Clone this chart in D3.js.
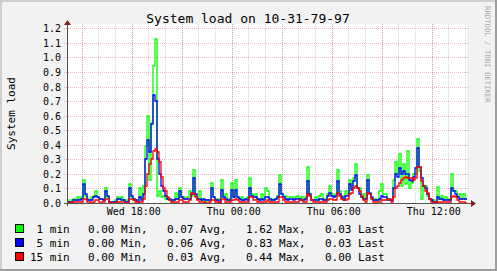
<!DOCTYPE html>
<html>
<head>
<meta charset="utf-8">
<script src="https://cdn.jsdelivr.net/npm/d3@7"></script>
<style>
  body { margin: 0; background: #f2f2f2; }
  text { font-family: "DejaVu Sans Mono", monospace; fill: #000; }
</style>
</head>
<body>
<div class="chart"></div>
<script>
// Data: one value every ~7 minutes (2px)
var load1 = [
  0.02,0.01,0.02,0.03,0.02,0.04,0.03,0.04,0.16,0.05, 0.03,0.02,0.04,0.05,0.08,0.04,0.03,0.03,0.02,0.10,
  0.04,0.01,0.01,0.01,0.02,0.04,0.03,0.04,0.02,0.01, 0.02,0.13,0.04,0.03,0.02,0.02,0.10,0.03,0.12,0.39,
  0.60,0.16,0.55,0.94,1.13,0.05,0.08,0.04,0.05,0.03, 0.03,0.02,0.01,0.02,0.07,0.03,0.10,0.04,0.04,0.03,
  0.04,0.08,0.05,0.23,0.05,0.03,0.08,0.02,0.02,0.01, 0.02,0.02,0.14,0.04,0.02,0.03,0.02,0.16,0.04,0.06,
  0.02,0.03,0.14,0.04,0.16,0.04,0.03,0.04,0.02,0.03, 0.04,0.17,0.06,0.04,0.06,0.03,0.02,0.06,0.03,0.10,
  0.08,0.02,0.03,0.02,0.03,0.05,0.19,0.06,0.04,0.05, 0.03,0.04,0.04,0.03,0.04,0.05,0.03,0.04,0.03,0.04,
  0.25,0.05,0.02,0.02,0.04,0.02,0.05,0.06,0.02,0.03, 0.06,0.12,0.06,0.05,0.06,0.23,0.08,0.05,0.03,0.08,
  0.06,0.16,0.10,0.17,0.27,0.10,0.10,0.04,0.06,0.03, 0.19,0.06,0.03,0.02,0.03,0.02,0.08,0.13,0.06,0.06,
  0.03,0.03,0.02,0.16,0.28,0.20,0.34,0.12,0.27,0.13, 0.36,0.10,0.14,0.20,0.20,0.44,0.22,0.03,0.12,0.12,
  0.05,0.03,0.02,0.02,0.01,0.11,0.03,0.05,0.02,0.04, 0.03,0.02,0.20,0.08,0.08,0.04,0.06,0.03,0.06,0.03
];
var load5 = [
  0.01,0.01,0.01,0.02,0.02,0.02,0.02,0.03,0.13,0.06, 0.02,0.02,0.02,0.04,0.05,0.04,0.03,0.03,0.02,0.08,
  0.05,0.01,0.01,0.01,0.01,0.03,0.03,0.02,0.02,0.01, 0.01,0.10,0.05,0.03,0.02,0.01,0.04,0.02,0.06,0.30,
  0.43,0.35,0.54,0.74,0.70,0.30,0.20,0.12,0.08,0.05, 0.03,0.03,0.02,0.02,0.03,0.03,0.08,0.04,0.03,0.03,
  0.03,0.03,0.06,0.17,0.06,0.03,0.03,0.02,0.03,0.02, 0.02,0.02,0.10,0.04,0.02,0.02,0.01,0.09,0.04,0.03,
  0.02,0.02,0.09,0.04,0.09,0.04,0.03,0.02,0.02,0.03, 0.02,0.10,0.05,0.04,0.04,0.03,0.02,0.03,0.02,0.04,
  0.04,0.03,0.02,0.02,0.03,0.04,0.13,0.06,0.04,0.03, 0.02,0.03,0.03,0.02,0.03,0.03,0.03,0.02,0.02,0.03,
  0.15,0.06,0.02,0.02,0.02,0.02,0.03,0.03,0.02,0.02, 0.05,0.07,0.05,0.04,0.05,0.15,0.06,0.04,0.02,0.05,
  0.05,0.13,0.09,0.15,0.19,0.10,0.06,0.04,0.03,0.03, 0.16,0.07,0.04,0.02,0.02,0.02,0.03,0.05,0.04,0.04,
  0.02,0.02,0.02,0.10,0.20,0.18,0.24,0.20,0.22,0.20, 0.20,0.16,0.15,0.18,0.24,0.375,0.25,0.17,0.12,0.10,
  0.06,0.03,0.02,0.01,0.01,0.04,0.03,0.03,0.02,0.02, 0.02,0.02,0.10,0.08,0.06,0.04,0.03,0.03,0.03,0.03
];
var load15 = [
  0.00,0.00,0.01,0.01,0.01,0.01,0.01,0.01,0.03,0.03, 0.01,0.01,0.00,0.01,0.02,0.02,0.01,0.01,0.01,0.03,
  0.03,0.01,0.00,0.00,0.00,0.01,0.01,0.01,0.01,0.00, 0.00,0.03,0.03,0.02,0.01,0.01,0.01,0.01,0.03,0.12,
  0.20,0.27,0.30,0.36,0.37,0.35,0.28,0.18,0.10,0.08, 0.04,0.02,0.01,0.01,0.01,0.01,0.02,0.02,0.01,0.01,
  0.01,0.02,0.07,0.06,0.04,0.02,0.01,0.01,0.01,0.00, 0.00,0.01,0.02,0.02,0.01,0.01,0.01,0.03,0.03,0.01,
  0.01,0.01,0.02,0.02,0.03,0.02,0.01,0.01,0.01,0.01, 0.01,0.04,0.04,0.02,0.02,0.01,0.01,0.01,0.01,0.01,
  0.02,0.01,0.01,0.01,0.01,0.01,0.04,0.04,0.02,0.01, 0.01,0.01,0.01,0.01,0.01,0.01,0.02,0.02,0.01,0.01,
  0.06,0.05,0.02,0.01,0.01,0.01,0.01,0.01,0.01,0.01, 0.02,0.03,0.03,0.02,0.02,0.07,0.05,0.03,0.02,0.02,
  0.03,0.06,0.07,0.10,0.12,0.10,0.08,0.05,0.02,0.01, 0.07,0.06,0.03,0.01,0.01,0.01,0.01,0.02,0.02,0.02,
  0.03,0.03,0.01,0.04,0.10,0.12,0.14,0.16,0.17,0.18, 0.17,0.17,0.17,0.16,0.17,0.25,0.25,0.15,0.12,0.08,
  0.07,0.03,0.01,0.01,0.01,0.01,0.01,0.01,0.01,0.01, 0.01,0.01,0.04,0.05,0.04,0.02,0.01,0.01,0.01,0.00
];

var seriesNames = [" 1 min", " 5 min", "15 min"];
var minValues = ["0.00", "0.00", "0.00"];
var avgValues = ["0.07", "0.06", "0.03"];
var maxValues = ["1.62", "0.83", "0.44"];
var lastValues = ["0.03", "0.03", "0.00"];
var seriesColors = ["#00ff00", "#0000ff", "#ff0000"];

var startTime = new Date(2023, 10, 1, 14, 7);   // Wed 14:07
var endTime = new Date(2023, 10, 2, 14, 7);     // Thu 14:07
var yMax = 1.23;

// Set up the chart
//= ================================
var svgWidth = 497;
var svgHeight = 271;
var plot = { left: 67, right: 467, top: 24, bottom: 203 };

var svg = d3.select(".chart")
  .append("svg")
  .attr("width", svgWidth)
  .attr("height", svgHeight);

// background and 3d-ish frame
svg.append("rect").attr("width", svgWidth).attr("height", svgHeight).attr("fill", "#f2f2f2");
svg.append("rect").attr("x", 0).attr("y", 0).attr("width", svgWidth).attr("height", 2).attr("fill", "#cfcfcf");
svg.append("rect").attr("x", 0).attr("y", 0).attr("width", 2).attr("height", svgHeight).attr("fill", "#cfcfcf");
svg.append("rect").attr("x", 0).attr("y", svgHeight - 2).attr("width", svgWidth).attr("height", 2).attr("fill", "#9e9e9e");
svg.append("rect").attr("x", svgWidth - 2).attr("y", 0).attr("width", 2).attr("height", svgHeight).attr("fill", "#9e9e9e");

// canvas
svg.append("rect")
  .attr("x", plot.left).attr("y", plot.top)
  .attr("width", plot.right - plot.left).attr("height", plot.bottom - plot.top)
  .attr("fill", "#ffffff");

// scales
var xScale = d3.scaleTime().domain([startTime, endTime]).range([plot.left, plot.right]);
var xIndex = d3.scaleLinear().domain([0, load1.length]).range([plot.left, plot.right]);
var yScale = d3.scaleLinear().domain([0, yMax]).range([plot.bottom, plot.top]);

var grid = svg.append("g");

// minor vertical grid: every hour
grid.selectAll(".vminor")
  .data(xScale.ticks(d3.timeHour.every(1)))
  .enter().append("line")
  .attr("x1", function(d) { return Math.round(xScale(d)) + 0.5; })
  .attr("x2", function(d) { return Math.round(xScale(d)) + 0.5; })
  .attr("y1", plot.top).attr("y2", plot.bottom)
  .attr("stroke", "rgba(180,150,150,0.45)")
  .attr("stroke-dasharray", "1,1");

// major vertical grid: every 3 hours
var majorX = xScale.ticks(d3.timeHour.every(3));
grid.selectAll(".vmajor")
  .data(majorX)
  .enter().append("line")
  .attr("x1", function(d) { return Math.round(xScale(d)) + 0.5; })
  .attr("x2", function(d) { return Math.round(xScale(d)) + 0.5; })
  .attr("y1", plot.top).attr("y2", plot.bottom + 3)
  .attr("stroke", "rgba(222,79,79,0.4)")
  .attr("stroke-dasharray", "1,1");

// horizontal grid: every 0.1
var yTicks = d3.range(0, 13).map(function(k) { return k / 10; });
grid.selectAll(".hmajor")
  .data(yTicks.slice(1))
  .enter().append("line")
  .attr("x1", plot.left - 3).attr("x2", plot.right + 2)
  .attr("y1", function(d) { return Math.round(yScale(d)) + 0.5; })
  .attr("y2", function(d) { return Math.round(yScale(d)) + 0.5; })
  .attr("stroke", "rgba(222,79,79,0.4)")
  .attr("stroke-dasharray", "1,1");

// the three load lines, 1 min first so 15 min sits on top
var line = d3.line()
  .x(function(d, i) { return Math.round(xIndex(i)); })
  .y(function(d) { return Math.round(yScale(d)); })
  .curve(d3.curveStepAfter);

[load1, load5, load15].forEach(function(series, k) {
  svg.append("path")
    .datum(series.concat([series[series.length - 1]]))
    .attr("d", line)
    .attr("fill", "none")
    .attr("stroke", seriesColors[k])
    .attr("stroke-width", 1.3);
});

// axes
svg.append("line")
  .attr("x1", plot.left + 0.5).attr("x2", plot.left + 0.5)
  .attr("y1", plot.bottom + 3).attr("y2", plot.top - 2)
  .attr("stroke", "#555");
svg.append("line")
  .attr("x1", plot.left - 3).attr("x2", plot.right + 4)
  .attr("y1", plot.bottom + 0.5).attr("y2", plot.bottom + 0.5)
  .attr("stroke", "#555");

// arrows
svg.append("path")
  .attr("d", "M" + (plot.left + 0.5) + "," + (plot.top - 4) + " l-3.5,5 h7 z")
  .attr("fill", "#801f1f");
svg.append("path")
  .attr("d", "M" + (plot.right + 9) + "," + (plot.bottom + 0.5) + " l-5,-3.5 v7 z")
  .attr("fill", "#801f1f");

// y tick labels
svg.selectAll(".ylabel")
  .data(yTicks)
  .enter().append("text")
  .attr("x", 61)
  .attr("y", function(d) { return Math.round(yScale(d)) + 0.5; })
  .attr("dy", "0.35em")
  .attr("text-anchor", "end")
  .style("font-size", "10px")
  .text(function(d) { return d3.format(".1f")(d); });

// x tick labels
svg.selectAll(".xlabel")
  .data(xScale.ticks(d3.timeHour.every(6)))
  .enter().append("text")
  .attr("x", function(d) { return xScale(d) + 2; })
  .attr("y", 215)
  .attr("text-anchor", "middle")
  .style("font-size", "10px")
  .text(function(d) { return d3.timeFormat("%a %H:%M")(d); });

// title
svg.append("text")
  .attr("x", 248).attr("y", 23)
  .attr("text-anchor", "middle")
  .style("font-size", "13px")
  .text("System load on 10-31-79-97");

// y axis title
svg.append("text")
  .attr("transform", "translate(15," + ((plot.top + plot.bottom) / 2) + ") rotate(-90)")
  .attr("text-anchor", "middle")
  .style("font-size", "11px")
  .text("System load");

// watermark
svg.append("text")
  .attr("transform", "translate(485,6) rotate(90)")
  .style("font-size", "7.3px")
  .style("fill", "#a8a8a8")
  .text("RRDTOOL / TOBI OETIKER");

// legend
var legend = svg.selectAll(".legend")
  .data(seriesNames)
  .enter().append("g")
  .attr("transform", function(d, i) { return "translate(0," + (233 + i * 14) + ")"; });

legend.append("rect")
  .attr("x", 15.5).attr("y", -8.5)
  .attr("width", 8).attr("height", 8)
  .attr("fill", function(d, i) { return seriesColors[i]; })
  .attr("stroke", "#000");

legend.append("text").attr("x", 30).style("white-space", "pre").style("font-size", "11px")
  .text(function(d) { return d; });
legend.append("text").attr("x", 88).style("font-size", "11px")
  .text(function(d, i) { return minValues[i] + " Min,"; });
legend.append("text").attr("x", 167).style("font-size", "11px")
  .text(function(d, i) { return avgValues[i] + " Avg,"; });
legend.append("text").attr("x", 246).style("font-size", "11px")
  .text(function(d, i) { return maxValues[i] + " Max,"; });
legend.append("text").attr("x", 325).style("font-size", "11px")
  .text(function(d, i) { return lastValues[i] + " Last"; });
</script>
</body>
</html>
